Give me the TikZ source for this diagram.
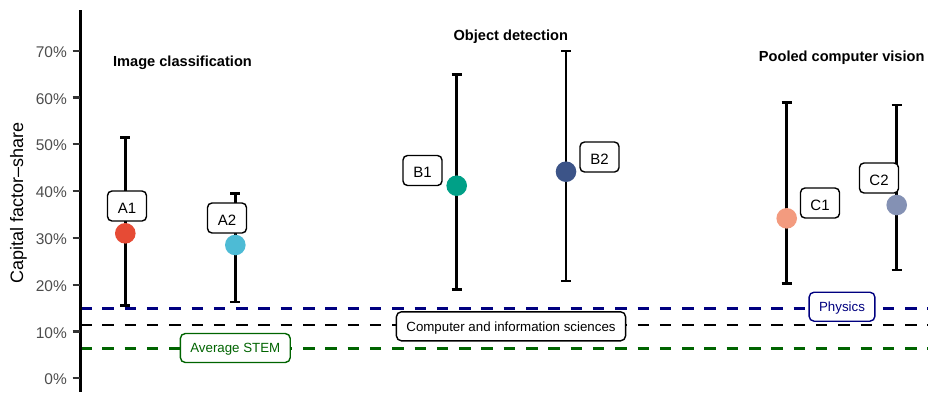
\documentclass[tikz,border=0pt]{standalone}
\usepackage{fontspec}
\setmainfont{Liberation Sans}
\definecolor{npgA}{HTML}{E64B35}
\definecolor{npgB}{HTML}{4DBBD5}
\definecolor{npgC}{HTML}{00A087}
\definecolor{npgD}{HTML}{3C5488}
\definecolor{npgE}{HTML}{F39B7F}
\definecolor{npgF}{HTML}{8491B4}
\definecolor{refnavy}{HTML}{000080}
\definecolor{refgreen}{HTML}{006400}
\definecolor{ticktext}{HTML}{4D4D4D}
\definecolor{tickline}{HTML}{333333}
\tikzset{
  refline/.style={line width=2.8pt, dash pattern=on 11.5pt off 10.8pt},
  reflabel/.style={draw, fill=white, rounded corners=5pt, line width=1.4pt,
    inner xsep=10pt, inner ysep=0pt, minimum height=29pt,
    text height=9.5pt, text depth=0pt, font=\fontsize{13.3}{15}\selectfont},
  errbar/.style={line width=2.8pt, black},
  dot/.style={circle, inner sep=0pt, minimum size=20.6pt},
  tag/.style={draw, fill=white, rounded corners=4.5pt, line width=1.4pt,
    inner sep=0pt, minimum width=39pt, minimum height=30pt,
    text height=14pt, text depth=0pt, font=\fontsize{15}{17}\selectfont},
  paneltitle/.style={anchor=base, inner sep=0pt, font=\fontsize{14.6}{17}\selectfont\bfseries},
  ticklabel/.style={anchor=base east, inner sep=0pt, text=ticktext, font=\fontsize{15.5}{18}\selectfont}
}
\begin{document}
\begin{tikzpicture}[x=1pt, y=-1pt]
\useasboundingbox (0,0) rectangle (928,392);

% reference lines across the panel
\coordinate (physL) at (80,308.2);   \coordinate (physR) at (928,308.2);
\coordinate (cisL)  at (80,325);     \coordinate (cisR)  at (928,325);
\coordinate (stemL) at (80,348.2);   \coordinate (stemR) at (928,348.2);
\draw[refline, refnavy] (physL) -- (physR);
\draw[refline, black] (cisL) -- (cisR);
\draw[refline, refgreen] (stemL) -- (stemR);
\node[reflabel, draw=refnavy, text=refnavy] (phys) at (842,306.7) {Physics};
\node[reflabel] (cis) at (511,326.3) {Computer and information sciences};
\node[reflabel, draw=refgreen, text=refgreen] (stem) at (235.3,348) {Average STEM};

% y axis
\coordinate (axTop) at (80,10);
\coordinate (axBot) at (80,392);
\draw[line width=3pt] (axTop) -- (axBot);
\foreach \v/\y in {0/378.3,10/331.5,20/284.7,30/237.9,40/191.1,50/144.3,60/97.5,70/50.7}{
  \coordinate (tk\v) at (72.7,\y);
  \coordinate (ta\v) at (80,\y);
  \draw[line width=2.2pt, tickline] (tk\v) -- (ta\v);
  \node[ticklabel] (tl\v) at (67,\y+6.6) {\v\%};
}
\node[rotate=90, inner sep=0pt, font=\fontsize{18}{21}\selectfont] (ytitle) at (18.5,202.5) {Capital factor–share};

% panel titles
\node[paneltitle] (tImg) at (182.5,66) {Image classification};
\node[paneltitle] (tObj) at (510.8,40.3) {Object detection};
\node[paneltitle] (tPool) at (841.7,61.5) {Pooled computer vision};

% error bars with caps, points and tags
\foreach \n/\x/\t/\b/\p/\col/\lx/\ly/\lab in {
  a1/125.3/137.7/305.3/233.3/npgA/127/206/A1,
  a2/235.3/193.3/302/245/npgB/227/218/A2,
  b1/456.7/74.3/289.3/185.7/npgC/422.5/170.5/B1,
  b2/566/51/281/171.7/npgD/599.5/157/B2,
  c1/786.7/102.7/283.3/218.3/npgE/820/203/C1,
  c2/896.7/105/270/205/npgF/879/178/C2}{
  \coordinate (\n top) at (\x,\t);
  \coordinate (\n bot) at (\x,\b);
  \coordinate (\n topL) at (\x-5,\t);
  \coordinate (\n topR) at (\x+5,\t);
  \coordinate (\n botL) at (\x-5,\b);
  \coordinate (\n botR) at (\x+5,\b);
  \draw[errbar] (\n top) -- (\n bot);
  \draw[errbar] (\n topL) -- (\n topR);
  \draw[errbar] (\n botL) -- (\n botR);
  \node[dot, fill=\col] (\n pt) at (\x,\p) {};
  \node[tag] (\n tag) at (\lx,\ly) {\lab};
}
\end{tikzpicture}
\end{document}
